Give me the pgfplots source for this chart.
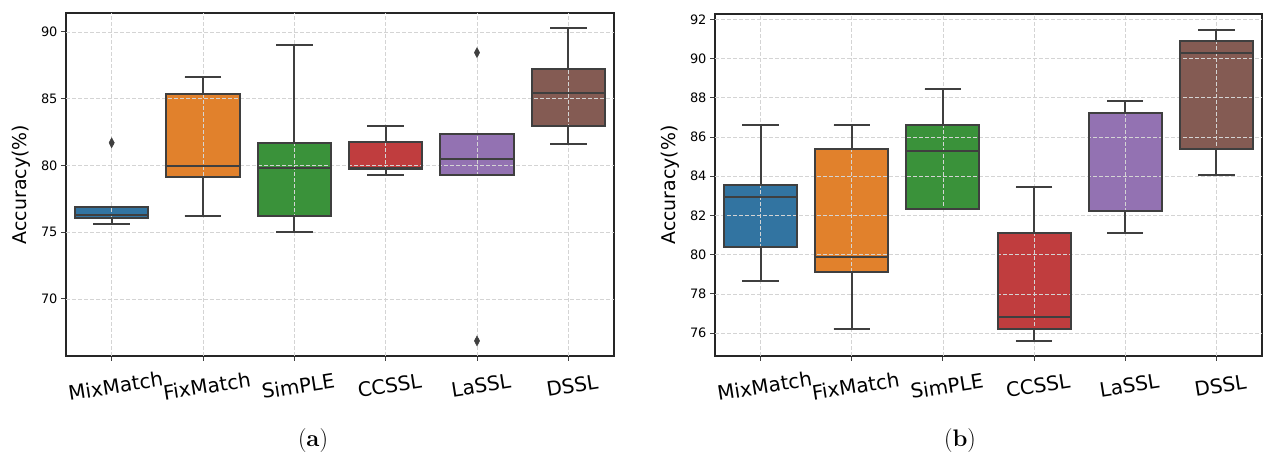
\documentclass[border=0pt]{standalone}
\usepackage{pgfplots}
\pgfplotsset{compat=1.18}
\usepgfplotslibrary{statistics}
\usepackage{fontspec}
\newfontfamily\dejavu{DejaVu Sans}
\definecolor{cB}{HTML}{3274A1}
\definecolor{cO}{HTML}{E1812C}
\definecolor{cG}{HTML}{3A923A}
\definecolor{cR}{HTML}{C03D3E}
\definecolor{cP}{HTML}{9372B2}
\definecolor{cN}{HTML}{845B53}
\definecolor{edge}{HTML}{3F3F3F}
% box statistics (a)
\pgfplotsset{
  a0/.style={boxplot prepared={draw position=0, lower whisker=75.63, lower quartile=76.03, median=76.28, upper quartile=76.86, upper whisker=76.86}},
  a1/.style={boxplot prepared={draw position=1, lower whisker=76.23, lower quartile=79.15, median=79.93, upper quartile=85.38, upper whisker=86.6}},
  a2/.style={boxplot prepared={draw position=2, lower whisker=75.0, lower quartile=76.2, median=79.78, upper quartile=81.7, upper whisker=89.05}},
  a3/.style={boxplot prepared={draw position=3, lower whisker=79.3, lower quartile=79.73, median=79.8, upper quartile=81.73, upper whisker=82.93}},
  a4/.style={boxplot prepared={draw position=4, lower whisker=79.3, lower quartile=79.3, median=80.5, upper quartile=82.33, upper whisker=82.33}},
  a5/.style={boxplot prepared={draw position=5, lower whisker=81.63, lower quartile=82.93, median=85.4, upper quartile=87.2, upper whisker=90.28}},
% box statistics (b)
  b0/.style={boxplot prepared={draw position=0, lower whisker=78.67, lower quartile=80.38, median=82.95, upper quartile=83.57, upper whisker=86.6}},
  b1/.style={boxplot prepared={draw position=1, lower whisker=76.22, lower quartile=79.14, median=79.89, upper quartile=85.38, upper whisker=86.6}},
  b2/.style={boxplot prepared={draw position=2, lower whisker=82.34, lower quartile=82.34, median=85.31, upper quartile=86.6, upper whisker=88.43}},
  b3/.style={boxplot prepared={draw position=3, lower whisker=75.61, lower quartile=76.22, median=76.85, upper quartile=81.11, upper whisker=83.44}},
  b4/.style={boxplot prepared={draw position=4, lower whisker=81.11, lower quartile=82.23, median=87.21, upper quartile=87.21, upper whisker=87.84}},
  b5/.style={boxplot prepared={draw position=5, lower whisker=84.06, lower quartile=85.39, median=90.28, upper quartile=90.88, upper whisker=91.47}},
}
\pgfplotsset{
  base/.style={
    scale only axis, anchor=south west,
    xmin=-0.5, xmax=5.5,
    xtick={0,1,2,3,4,5},
    boxplot/draw direction=y,
    boxplot/box extend=0.8,
    boxplot/whisker extend=0.4,
  },
  % underlying axis: frame, ticks, labels, box fills
  under/.style={base,
    xticklabels={MixMatch,FixMatch,SimPLE,CCSSL,LaSSL,DSSL},
    xticklabel style={font=\dejavu\fontsize{20}{22}\selectfont, rotate=9, anchor=north, yshift=-14bp},
    yticklabel style={font=\dejavu\fontsize{13}{15}\selectfont},
    ylabel={Accuracy(\%)},
    ylabel style={font=\dejavu\fontsize{19}{21}\selectfont},
    ylabel shift=4bp,
    /pgf/number format/assume math mode=true,
    tick align=outside,
    xtick pos=left, ytick pos=left,
    major tick length=5bp,
    tick style={edge, line width=1bp},
    axis line style={black!85, line width=1.1bp},
  },
  % overlay axis: grid, then outlines, whiskers, medians, outliers
  over/.style={base,
    xticklabels={}, yticklabels={},
    major tick length=0pt, tick style={draw=none},
    axis line style={draw=none},
    grid=major,
    major grid style={dash pattern=on 4bp off 2bp, black!17, line width=0.8bp},
  },
  bxfill/.style={fill=#1, draw=none},
  bxline/.style={fill=none, draw=edge, line width=2bp, mark=diamond*, mark size=5bp,
    mark options={fill=edge, draw=edge, xscale=0.7, line width=0.5bp}},
}
\begin{document}
\begin{tikzpicture}
\useasboundingbox (0,0) rectangle (1263bp,457bp);
% ---------- (a) ----------
\begin{axis}[under, at={(66bp,101bp)}, width=548bp, height=343bp,
  ymin=65.73, ymax=91.42, ytick={70,75,80,85,90}]
\addplot[a0, bxfill=cB] coordinates {};
\addplot[a1, bxfill=cO] coordinates {};
\addplot[a2, bxfill=cG] coordinates {};
\addplot[a3, bxfill=cR] coordinates {};
\addplot[a4, bxfill=cP] coordinates {};
\addplot[a5, bxfill=cN] coordinates {};
\end{axis}
\begin{axis}[over, at={(66bp,101bp)}, width=548bp, height=343bp,
  ymin=65.73, ymax=91.42, ytick={70,75,80,85,90}]
\addplot[a0, bxline] table[row sep=\\, y index=0] {data\\ 81.7\\};
\addplot[a1, bxline] coordinates {};
\addplot[a2, bxline] coordinates {};
\addplot[a3, bxline] coordinates {};
\addplot[a4, bxline] table[row sep=\\, y index=0] {data\\ 88.45\\ 66.86\\};
\addplot[a5, bxline] coordinates {};
\end{axis}
% ---------- (b) ----------
\begin{axis}[under, at={(715bp,101bp)}, width=547bp, height=342bp,
  ymin=74.84, ymax=92.27, ytick={76,78,80,82,84,86,88,90,92}]
\addplot[b0, bxfill=cB] coordinates {};
\addplot[b1, bxfill=cO] coordinates {};
\addplot[b2, bxfill=cG] coordinates {};
\addplot[b3, bxfill=cR] coordinates {};
\addplot[b4, bxfill=cP] coordinates {};
\addplot[b5, bxfill=cN] coordinates {};
\end{axis}
\begin{axis}[over, at={(715bp,101bp)}, width=547bp, height=342bp,
  ymin=74.84, ymax=92.27, ytick={76,78,80,82,84,86,88,90,92}]
\addplot[b0, bxline] coordinates {};
\addplot[b1, bxline] coordinates {};
\addplot[b2, bxline] coordinates {};
\addplot[b3, bxline] coordinates {};
\addplot[b4, bxline] coordinates {};
\addplot[b5, bxline] coordinates {};
\end{axis}
\node[font=\fontsize{24}{28}\selectfont] at (313bp,16bp) {(\textbf{a})};
\node[font=\fontsize{24}{28}\selectfont] at (960bp,16bp) {(\textbf{b})};
\end{tikzpicture}
\end{document}
